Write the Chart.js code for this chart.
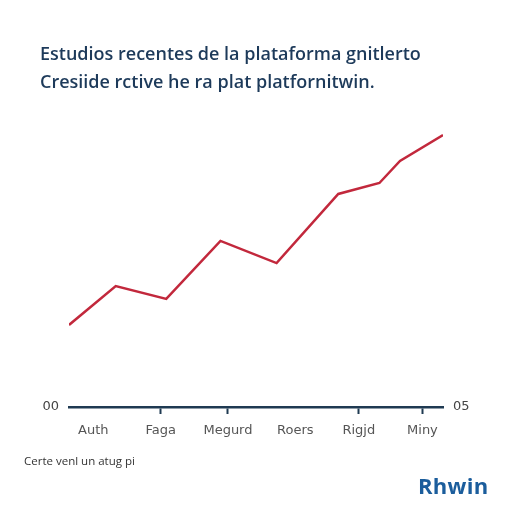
<!DOCTYPE html>
<html>
<head>
<meta charset="utf-8">
<script src="https://cdn.jsdelivr.net/npm/chart.js@4"></script>
<style>
  html, body { margin: 0; padding: 0; background: #fff; }
  #wrap { position: relative; width: 512px; height: 512px; overflow: hidden; }
  #chart { position: absolute; left: 0; top: 0; }
  .title { position: absolute; left: 40px; top: 39px; font-family: "Open Sans", sans-serif; font-weight: 600;
           font-size: 18px; line-height: 28px; color: #1d3a5a; white-space: nowrap; }
  .note { position: absolute; left: 24px; top: 453px; font-family: "Open Sans", sans-serif; font-size: 11.5px; color: #333; }
  .brand { position: absolute; left: 418px; top: 470px; font-family: "Open Sans", sans-serif; font-weight: 700;
           font-size: 22px; letter-spacing: 0.3px; color: #1b5d9c; }
</style>
</head>
<body>
<div id="wrap">
  <canvas id="chart" width="512" height="512"></canvas>
  <div class="title">Estudios recentes de la plataforma gnitlerto<br>Cresiide rctive he ra plat platfornitwin.</div>
  <div class="note">Certe venl un atug pi</div>
  <div class="brand">Rhwin</div>
</div>
<script>
// categories along the bottom axis and where they sit on the x scale
const categories = ['Auth', 'Faga', 'Megurd', 'Roers', 'Rigjd', 'Miny'];
const categoryPos = [0.65, 2.45, 4.25, 6.05, 7.75, 9.45];
const categoryTick = [false, true, true, false, true, true];

// the red series
const xVals = [0, 1.25, 2.6, 4.05, 5.55, 7.2, 8.3, 8.85, 10];
const yVals = [2.93, 4.32, 3.86, 5.93, 5.14, 7.61, 8.0, 8.79, 9.71];

const leftLabel = '00';
const rightLabel = '05';

const points = xVals.map((x, i) => ({ x: x, y: yVals[i] }));

new Chart(document.getElementById('chart'), {
    type: 'line',
    data: {
        datasets: [{
            data: points,
            borderColor: '#c2283c',
            borderWidth: 2.5,
            pointRadius: 0,
            tension: 0,
            fill: false
        }]
    },
    options: {
        responsive: false,
        animation: false,
        layout: { padding: { top: 127, left: 0, right: 0, bottom: 0 } },
        plugins: { legend: { display: false }, tooltip: { enabled: false } },
        scales: {
            x: {
                type: 'linear',
                min: 0,
                max: 10,
                afterBuildTicks: s => { s.ticks = categoryPos.map(v => ({ value: v })); },
                afterFit: s => { s.height = 105; },
                border: { display: true, color: '#1f3a52', width: 2.5 },
                grid: {
                    drawOnChartArea: false,
                    tickLength: 7,
                    tickWidth: 2,
                    tickColor: ctx => categoryTick[ctx.index] ? '#1f3a52' : 'rgba(0,0,0,0)'
                },
                ticks: {
                    autoSkip: false,
                    maxRotation: 0,
                    padding: 9,
                    color: '#555',
                    font: { family: 'DejaVu Sans', size: 13 },
                    callback: (v, i) => categories[i]
                }
            },
            y: {
                position: 'left',
                min: 0,
                max: 10,
                afterBuildTicks: s => { s.ticks = [{ value: 0 }]; },
                afterFit: s => { s.width = 69; },
                border: { display: false },
                grid: { display: false },
                ticks: {
                    padding: 2,
                    color: '#444',
                    font: { family: 'DejaVu Sans', size: 13 },
                    callback: () => leftLabel
                }
            },
            y2: {
                position: 'right',
                min: 0,
                max: 10,
                afterBuildTicks: s => { s.ticks = [{ value: 0 }]; },
                afterFit: s => { s.width = 69; },
                border: { display: false },
                grid: { display: false },
                ticks: {
                    padding: 2,
                    color: '#444',
                    font: { family: 'DejaVu Sans', size: 13 },
                    callback: () => rightLabel
                }
            }
        }
    }
});
</script>
</body>
</html>
